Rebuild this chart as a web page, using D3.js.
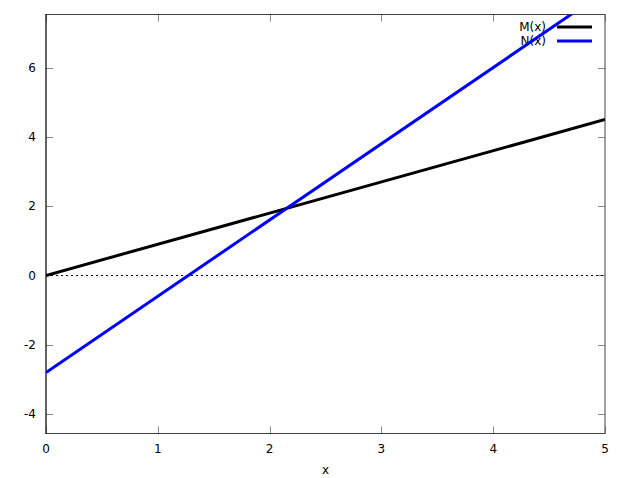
<!DOCTYPE html>
<html>
<head>
<meta charset="utf-8">
<script src="https://cdn.jsdelivr.net/npm/d3@7"></script>
<style>
  body { margin: 0; background: #fff; }
  text { font-family: "DejaVu Sans", sans-serif; font-size: 12px; fill: #000; }
</style>
</head>
<body>
<div id="chart"></div>
<script>
var xValues = [0, 5];
var mValues = [0, 4.5];
var nValues = [-2.8, 8.2];
var xTicks = [0, 1, 2, 3, 4, 5];
var yTicks = [-4, -2, 0, 2, 4, 6];
var seriesNames = ["M(x)", "N(x)"];
var seriesColors = ["#000000", "#0000ff"];

var width = 640,
    height = 478;
var plot = { left: 46, right: 605, top: 14.5, bottom: 433.5 };

var svg = d3.select("#chart")
  .append("svg")
    .attr("width", width)
    .attr("height", height);

var x = d3.scaleLinear().domain([0, 5]).range([plot.left, plot.right]);
var y = d3.scaleLinear().domain([-4.56, 7.53]).range([plot.bottom, plot.top]);

svg.append("clipPath")
    .attr("id", "clip")
  .append("rect")
    .attr("x", plot.left)
    .attr("y", plot.top)
    .attr("width", plot.right - plot.left)
    .attr("height", plot.bottom - plot.top);

// tick marks, mirrored on all four sides
var tickLen = 7;
var ticks = svg.append("g").attr("stroke", "#888").attr("stroke-width", 1);
yTicks.forEach(function(t) {
  var yy = Math.round(y(t)) + 0.5;
  ticks.append("line").attr("x1", plot.left).attr("x2", plot.left + tickLen).attr("y1", yy).attr("y2", yy);
  ticks.append("line").attr("x1", plot.right - tickLen).attr("x2", plot.right).attr("y1", yy).attr("y2", yy);
});
xTicks.forEach(function(t) {
  var xx = Math.round(x(t)) + 0.5;
  ticks.append("line").attr("x1", xx).attr("x2", xx).attr("y1", plot.bottom).attr("y2", plot.bottom - tickLen);
  ticks.append("line").attr("x1", xx).attr("x2", xx).attr("y1", plot.top).attr("y2", plot.top + tickLen);
});

// zero axes (dotted)
svg.append("line")
    .attr("x1", plot.left).attr("x2", plot.right)
    .attr("y1", Math.round(y(0)) + 0.5).attr("y2", Math.round(y(0)) + 0.5)
    .attr("stroke", "#000").attr("stroke-width", 1)
    .attr("stroke-dasharray", "2,3");

// border
svg.append("rect")
    .attr("x", plot.left)
    .attr("y", plot.top)
    .attr("width", plot.right - plot.left)
    .attr("height", plot.bottom - plot.top)
    .attr("fill", "none")
    .attr("stroke", "#404040")
    .attr("stroke-width", 1);

svg.append("line")
    .attr("x1", plot.left).attr("x2", plot.left)
    .attr("y1", plot.top).attr("y2", plot.bottom)
    .attr("stroke", "#000").attr("stroke-width", 1.5)
    .attr("stroke-dasharray", "1,1");

// tick labels
svg.append("g").selectAll("text")
  .data(yTicks)
  .enter()
    .append("text")
    .attr("x", 36)
    .attr("y", function(d) { return y(d); })
    .attr("dy", "0.35em")
    .attr("text-anchor", "end")
    .text(function(d) { return d; });

svg.append("g").selectAll("text")
  .data(xTicks)
  .enter()
    .append("text")
    .attr("x", function(d) { return x(d); })
    .attr("y", 453)
    .attr("text-anchor", "middle")
    .text(function(d) { return d; });

svg.append("text")
    .attr("x", (plot.left + plot.right) / 2)
    .attr("y", 474)
    .attr("text-anchor", "middle")
    .text("x");

// legend (drawn under the curves, as in the original)
var legend = svg.append("g");
seriesNames.forEach(function(name, i) {
  var ly = 27 + i * 14;
  legend.append("text")
    .attr("x", 546)
    .attr("y", ly)
    .attr("dy", "0.35em")
    .attr("text-anchor", "end")
    .text(name);
  legend.append("line")
    .attr("x1", 557).attr("x2", 592)
    .attr("y1", ly).attr("y2", ly)
    .attr("stroke", seriesColors[i])
    .attr("stroke-width", 3);
});

// series
var series = [mValues, nValues];
var line = d3.line()
  .x(function(d, i) { return x(xValues[i]); })
  .y(function(d) { return y(d); });

svg.append("g")
    .attr("clip-path", "url(#clip)")
  .selectAll("path")
  .data(series)
  .enter()
    .append("path")
    .attr("d", line)
    .attr("fill", "none")
    .attr("stroke", function(d, i) { return seriesColors[i]; })
    .attr("stroke-width", 3);
</script>
</body>
</html>
